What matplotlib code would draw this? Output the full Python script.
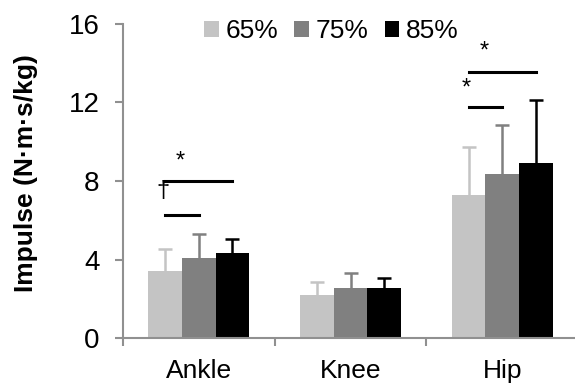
import numpy as np
import matplotlib.pyplot as plt

plt.rcParams['font.family'] = ['Liberation Sans', 'DejaVu Sans']

joints = ["Ankle", "Knee", "Hip"]
loads = ["65%", "75%", "85%"]
means = {
    "65%": [3.41, 2.18, 7.28],
    "75%": [4.08, 2.57, 8.35],
    "85%": [4.33, 2.57, 8.93],
}
sds = {
    "65%": [1.14, 0.68, 2.47],
    "75%": [1.20, 0.74, 2.49],
    "85%": [0.70, 0.50, 3.21],
}
colors = ["#c4c4c4", "#808080", "#000000"]

# significance brackets: (joint index, from load, to load, y, symbol, symbol x offset, symbol y)
sig_lines = [
    (0, 0, 1, 6.26, "\u2020", -0.236, 7.5),
    (0, 0, 2, 8.0, "*", -0.12, 9.0),
    (2, 0, 1, 11.78, "*", -0.234, 12.7),
    (2, 0, 2, 13.55, "*", -0.12, 14.6),
]

fig = plt.figure(figsize=(5.75, 3.87), dpi=100)
ax = fig.add_axes([0.2139, 0.1266, 0.7861, 0.8114])

x = np.arange(len(joints))
w = 0.2215
for i, (load, c) in enumerate(zip(loads, colors)):
    pos = x + (i - 1) * w
    m = np.array(means[load])
    e = np.array(sds[load])
    ax.bar(pos, m, width=w, color=c, label=load, zorder=2)
    eb = ax.errorbar(pos, m, yerr=[np.zeros_like(e), e], fmt="none", ecolor=c,
                     elinewidth=1.8, capsize=5, capthick=1.8, zorder=1)
    eb[1][0].set_visible(False)  # hide lower cap

for j, a, b, y, sym, sx, sy in sig_lines:
    ax.plot([j + (a - 1) * w, j + (b - 1) * w], [y, y], color="black", lw=2.2)
    ax.text(j + sx, sy, sym, ha="center", va="center", fontsize=17)

ax.set_xlim(-0.5, 2.48)
ax.set_ylim(0, 16)
ax.set_yticks([0, 4, 8, 12, 16])
ax.set_xticks(x)
ax.set_xticklabels(joints)
ax.set_xticks([-0.5, 0.5, 1.5], minor=True)
ax.tick_params(axis="x", which="major", length=0, labelsize=19, pad=15)
ax.tick_params(axis="x", which="minor", length=6, width=1.5, color="#909090")
ax.tick_params(axis="y", length=6, width=1.5, color="#909090", labelsize=20, pad=11)

for s in ["top", "right"]:
    ax.spines[s].set_visible(False)
for s in ["left", "bottom"]:
    ax.spines[s].set_color("#909090")
    ax.spines[s].set_linewidth(1.5)

ax.set_ylabel("Impulse (N\u00b7m\u00b7s/kg)", fontsize=19, fontweight="bold")
ax.yaxis.set_label_coords(-0.188, 0.525)

fig.legend(loc="center", bbox_to_anchor=(0.5765, 0.92), ncol=3, frameon=False,
           fontsize=19, handlelength=0.55, handleheight=0.55, handletextpad=0.27,
           columnspacing=0.6)

fig.savefig("out.png", dpi=100)
